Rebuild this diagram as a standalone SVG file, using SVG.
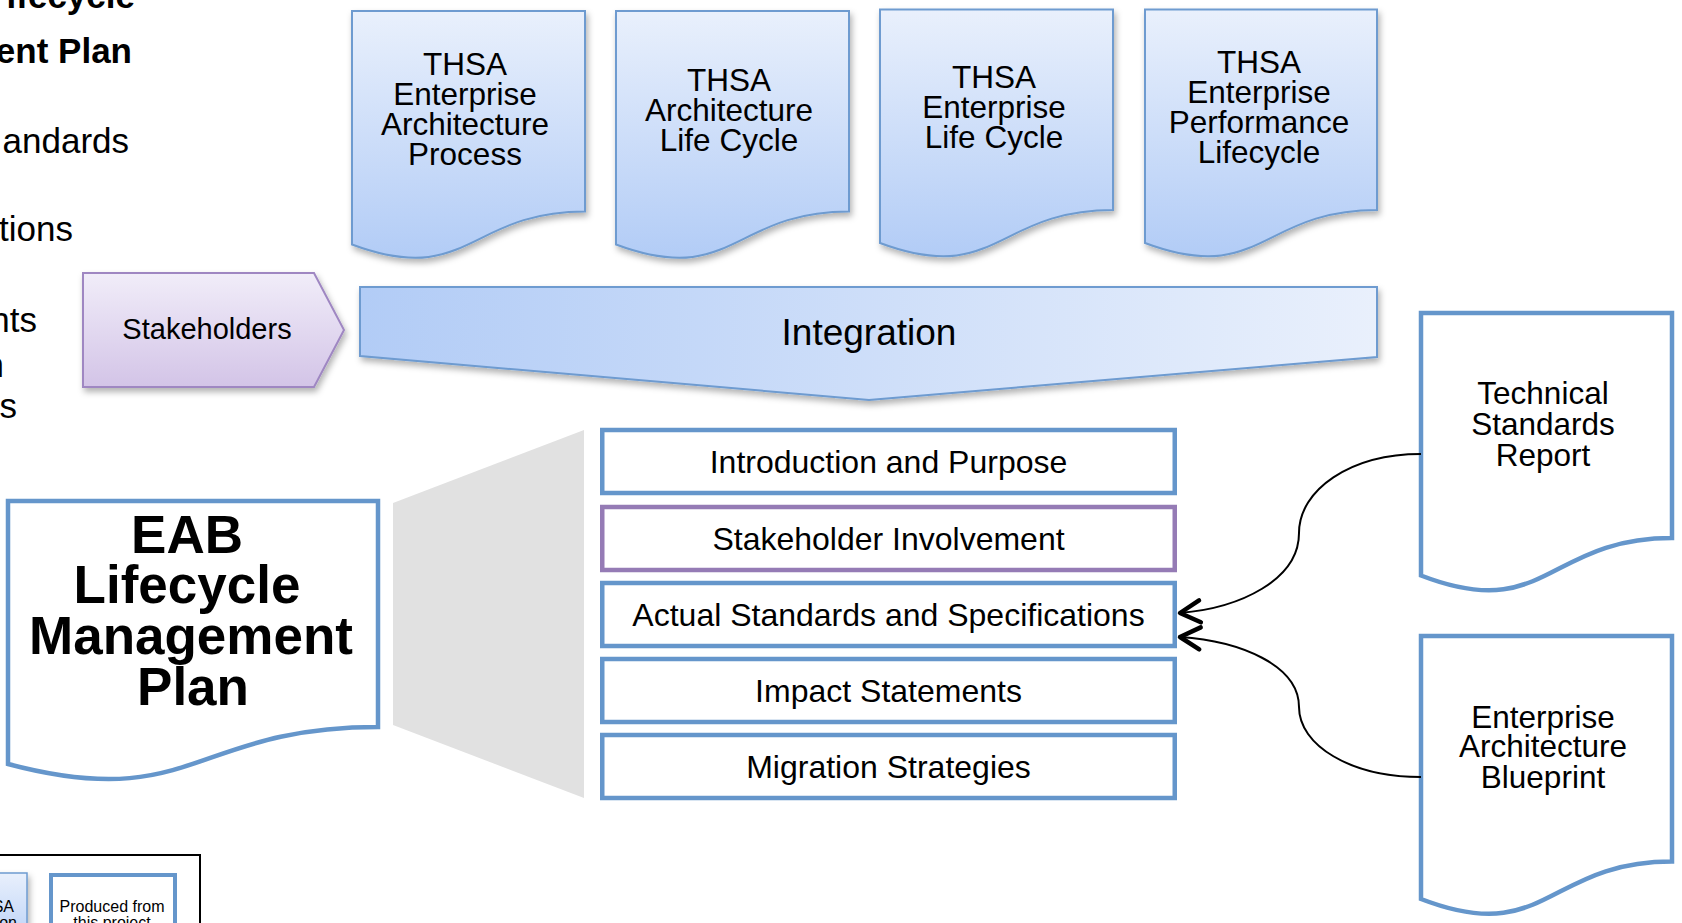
<svg xmlns="http://www.w3.org/2000/svg" width="1682" height="923" viewBox="0 0 1682 923">
<defs>
<linearGradient id="gDoc" x1="0" y1="0" x2="0" y2="1">
<stop offset="0" stop-color="#E9F0FC"/>
<stop offset="1" stop-color="#B2CCF6"/>
</linearGradient>
<linearGradient id="gInt" x1="0" y1="0" x2="1" y2="0">
<stop offset="0" stop-color="#B2CCF6"/>
<stop offset="1" stop-color="#E9F0FC"/>
</linearGradient>
<linearGradient id="gStk" x1="0" y1="0" x2="0" y2="1">
<stop offset="0" stop-color="#F1EDF9"/>
<stop offset="1" stop-color="#D3C4E7"/>
</linearGradient>
<filter id="sh" x="-10%" y="-10%" width="130%" height="130%">
<feDropShadow dx="2" dy="4" stdDeviation="3" flood-color="#000" flood-opacity="0.3"/>
</filter>
<marker id="arr" viewBox="-26 -15 30 30" refX="0" refY="0" markerWidth="30" markerHeight="30" markerUnits="userSpaceOnUse" orient="auto">
<path d="M-20,-11 L0,0 L-20,11" fill="none" stroke="#000" stroke-width="4.5" stroke-linecap="round" stroke-linejoin="round"/>
</marker>
</defs>
<style>
text{font-family:"Liberation Sans",Arial,sans-serif;fill:#000}
.topdoc{fill:url(#gDoc);stroke:#6E9BD0;stroke-width:2;filter:url(#sh)}
.wdoc{fill:#fff;stroke:#6596CB;stroke-width:4.5}
.box{fill:#fff;stroke:#6596CB;stroke-width:4.5}
.boxp{fill:#fff;stroke:#957BB5;stroke-width:4.5}
.t31{font-size:31.5px;text-anchor:middle}
.t32{font-size:32px;text-anchor:middle}
.t34{font-size:35px;text-anchor:end}
.conn{fill:none;stroke:#000;stroke-width:2;marker-end:url(#arr)}
</style>
<rect width="1682" height="923" fill="#fff"/>

<g id="cutoff-text">
<text x="135" y="8" font-size="35" font-weight="bold" text-anchor="end">ifecycle</text>
<text x="132" y="63" font-size="35" font-weight="bold" text-anchor="end">ent Plan</text>
<text class="t34" x="129" y="153">andards</text>
<text class="t34" x="73" y="241">tions</text>
<text class="t34" x="37" y="332">nts</text>
<text class="t34" x="4" y="377">n</text>
<text class="t34" x="17" y="418">s</text>
</g>

<g id="doc-ea-process">
<path class="topdoc" d="M352,11 H585 V211.5 C468.5,211.5 468.5,287.8 352,244.5 Z"/>
<text class="t31"><tspan x="465" y="75">THSA</tspan><tspan x="465" y="105">Enterprise</tspan><tspan x="465" y="135">Architecture</tspan><tspan x="465" y="165">Process</tspan></text>
</g>
<g id="doc-arch-lifecycle">
<path class="topdoc" d="M616,11 H849 V211.5 C732.5,211.5 732.5,287.8 616,244.5 Z"/>
<text class="t31"><tspan x="729" y="91">THSA</tspan><tspan x="729" y="121">Architecture</tspan><tspan x="729" y="151">Life Cycle</tspan></text>
</g>
<g id="doc-ent-lifecycle">
<path class="topdoc" d="M880,9.5 H1113 V210 C996.5,210 996.5,286.3 880,243 Z"/>
<text class="t31"><tspan x="994" y="88">THSA</tspan><tspan x="994" y="118">Enterprise</tspan><tspan x="994" y="148">Life Cycle</tspan></text>
</g>
<g id="doc-perf-lifecycle">
<path class="topdoc" d="M1145,9.5 H1377 V210 C1261,210 1261,286.3 1145,243 Z"/>
<text class="t31"><tspan x="1259" y="73">THSA</tspan><tspan x="1259" y="103">Enterprise</tspan><tspan x="1259" y="133">Performance</tspan><tspan x="1259" y="163">Lifecycle</tspan></text>
</g>

<g id="stakeholders">
<path d="M83,273 H314 L344,330 L314,387 H83 Z" fill="url(#gStk)" stroke="#9F87C2" stroke-width="2" filter="url(#sh)"/>
<text x="207" y="339" font-size="29" text-anchor="middle">Stakeholders</text>
</g>

<g id="integration">
<path d="M360,287 H1377 V357 L869,400 L360,356 Z" fill="url(#gInt)" stroke="#6E9BD0" stroke-width="2" filter="url(#sh)"/>
<text x="869" y="345" font-size="37" text-anchor="middle">Integration</text>
</g>

<g id="eab-plan">
<path class="wdoc" d="M8,501 H378 V727 C193,727 193,813 8,764 Z"/>
<text font-size="53" font-weight="bold" text-anchor="middle"><tspan x="187" y="553">EAB</tspan><tspan x="187" y="603">Lifecycle</tspan><tspan x="191" y="654">Management</tspan><tspan x="193" y="705">Plan</tspan></text>
</g>

<g id="zoom-trapezoid">
<polygon points="584,430 393,503 393,725 584,798" fill="#E1E1E1"/>
</g>

<g id="box-intro">
<rect class="box" x="602.25" y="430" width="572.5" height="63"/>
<text class="t32" x="888.5" y="472.5">Introduction and Purpose</text>
</g>
<g id="box-stakeholder">
<rect class="boxp" x="602.25" y="507" width="572.5" height="63"/>
<text class="t32" x="888.5" y="549.5">Stakeholder Involvement</text>
</g>
<g id="box-standards">
<rect class="box" x="602.25" y="583" width="572.5" height="63"/>
<text class="t32" x="888.5" y="625.5">Actual Standards and Specifications</text>
</g>
<g id="box-impact">
<rect class="box" x="602.25" y="659" width="572.5" height="63"/>
<text class="t32" x="888.5" y="701.5">Impact Statements</text>
</g>
<g id="box-migration">
<rect class="box" x="602.25" y="735" width="572.5" height="63"/>
<text class="t32" x="888.5" y="777.5">Migration Strategies</text>
</g>

<g id="doc-tech-standards">
<path class="wdoc" d="M1421,313 H1672 V538 C1546.5,538 1546.5,624 1421,575.5 Z"/>
<text class="t31"><tspan x="1543" y="404">Technical</tspan><tspan x="1543" y="435">Standards</tspan><tspan x="1543" y="466">Report</tspan></text>
</g>
<g id="doc-ea-blueprint">
<path class="wdoc" d="M1421,636 H1672 V861.5 C1546.5,861.5 1546.5,947.5 1421,899 Z"/>
<text class="t31"><tspan x="1543" y="728">Enterprise</tspan><tspan x="1543" y="757">Architecture</tspan><tspan x="1543" y="788">Blueprint</tspan></text>
</g>

<g id="legend">
<rect x="-60" y="855" width="260" height="120" fill="#fff" stroke="#000" stroke-width="2"/>
<rect x="-60" y="873" width="87" height="80" fill="url(#gDoc)" stroke="#6E9BD0" stroke-width="1.5" filter="url(#sh)"/>
<text x="14" y="912" font-size="16" text-anchor="end">SA</text>
<text x="17" y="928" font-size="16" text-anchor="end">ion</text>
<rect x="51" y="875" width="124" height="80" fill="#fff" stroke="#6596CB" stroke-width="4"/>
<text font-size="16" text-anchor="middle"><tspan x="112" y="912">Produced from</tspan><tspan x="112" y="928">this project</tspan></text>
</g>

<g id="connectors">
<path class="conn" d="M1421,454 C1350,454 1299,490 1299,533 C1299,580 1240,608 1180,613"/>
<path class="conn" d="M1421,777 C1350,777 1299,745 1299,707 C1299,665 1240,641 1180,637"/>
</g>
</svg>
